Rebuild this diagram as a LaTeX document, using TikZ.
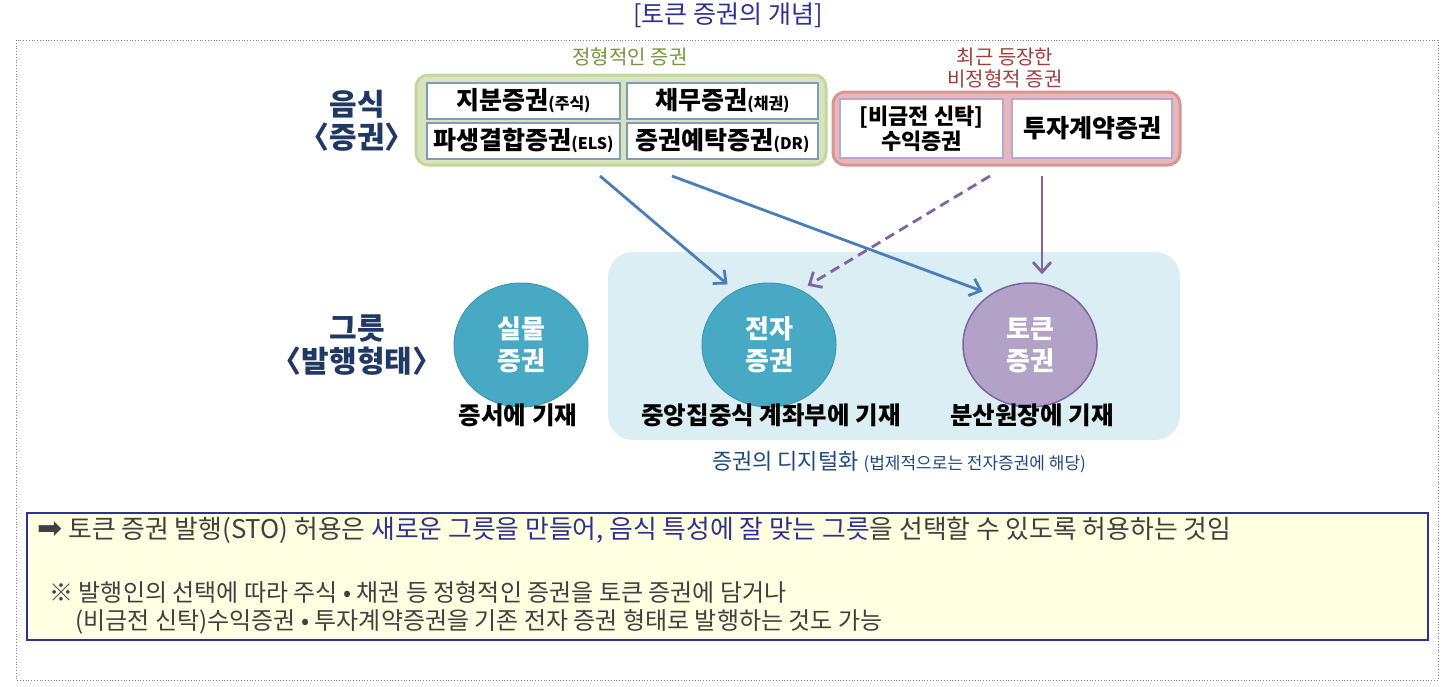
\documentclass[tikz,border=0pt]{standalone}
\usepackage{fontspec}
\setmainfont{Noto Sans CJK KR}
\newfontfamily\symfont{DejaVu Sans}
\usepackage{tikz}
\usetikzlibrary{shapes.geometric, arrows.meta, positioning, backgrounds}

\definecolor{navy}{HTML}{1F3864}
\definecolor{titleblue}{HTML}{2E3192}
\definecolor{grpgreen}{HTML}{D7E4BD}
\definecolor{grpgreenb}{HTML}{C3D69B}
\definecolor{olive}{HTML}{77933C}
\definecolor{grppink}{HTML}{E6B9B8}
\definecolor{grppinkb}{HTML}{D99694}
\definecolor{darkred}{HTML}{A23C3A}
\definecolor{boxblue}{HTML}{7F9BBD}
\definecolor{boxlilac}{HTML}{B4A7D6}
\definecolor{digibg}{HTML}{DAEEF3}
\definecolor{teal}{HTML}{48A9C4}
\definecolor{tealb}{HTML}{3E97B0}
\definecolor{lilac}{HTML}{B3A2C7}
\definecolor{lilacb}{HTML}{8064A2}
\definecolor{arrblue}{HTML}{4A7EBB}
\definecolor{noteyel}{HTML}{FFFFE1}
\definecolor{notegray}{HTML}{404040}
\definecolor{capblue}{HTML}{1F497D}

\newcommand{\fsz}[2]{\fontsize{#1}{#2}\selectfont}
\newcommand{\subtxt}[1]{{\fsz{16}{16}#1}}

\begin{document}
\begin{tikzpicture}[
    x=1pt, y=-1pt,
    grp/.style={rectangle, rounded corners=12pt, line width=3pt},
    secbox/.style={rectangle, draw=boxblue, line width=1.8pt, fill=white, inner sep=0pt, font=\fsz{25}{27}\bfseries, align=center},
    sidelbl/.style={align=center, text=navy, font=\fsz{30}{33}\bfseries},
    form/.style={ellipse, minimum width=134pt, minimum height=124pt, inner sep=0pt, text=white, align=center, font=\fsz{26}{32}\bfseries},
    under/.style={font=\fsz{24.5}{26}\bfseries},
    barr/.style={-{Straight Barb[length=10pt, width=18pt]}, line width=2.8pt, arrblue},
    parr/.style={-{Straight Barb[length=10pt, width=18pt]}, line width=2.8pt, lilacb},
    note/.style={anchor=west, text=notegray, font=\fsz{24}{26}}
]
\useasboundingbox (0,0) rectangle (1446,686);

%% -- title and frame --
\node[text=titleblue, font=\fsz{25}{27}] (title) at (728,15) {[토큰 증권의 개념]};
\draw[gray, dotted, line width=0.8pt] (16,40) rectangle (1438,680);

%% -- securities (top row) --
\node[sidelbl] (food) at (357,121) {음식\\〈증권〉};

\node[grp, fill=grpgreen, draw=grpgreenb, minimum width=410pt, minimum height=90pt] (typed) at (621,120) {};
\node[text=olive, font=\fsz{20}{22}] (typedlbl) at (630,57) {정형적인 증권};
\node[secbox, minimum width=193pt, minimum height=36pt] (equity) at (523.5,101) {지분증권\subtxt{(주식)}};
\node[secbox, minimum width=191pt, minimum height=36pt] (debt)   at (722.5,101) {채무증권\subtxt{(채권)}};
\node[secbox, minimum width=193pt, minimum height=36pt] (deriv)  at (523.5,141) {파생결합증권\subtxt{(ELS)}};
\node[secbox, minimum width=191pt, minimum height=36pt] (depo)   at (722.5,141) {증권예탁증권\subtxt{(DR)}};

\node[grp, fill=grppink, draw=grppinkb, minimum width=347pt, minimum height=73pt] (atyp) at (1006.5,128.5) {};
\node[text=darkred, font=\fsz{20}{22}, align=center] (atyplbl) at (1005,68) {최근 등장한\\비정형적 증권};
\node[secbox, draw=boxlilac, minimum width=163pt, minimum height=59pt, font=\fsz{22}{25}\bfseries] (trust)  at (921.5,128.5) {[비금전 신탁]\\수익증권};
\node[secbox, draw=boxlilac, minimum width=160pt, minimum height=59pt] (invest) at (1092,128.5) {투자계약증권};

%% -- issuance forms (middle row) --
\node[sidelbl] (vessel) at (357,345) {그릇\\〈발행형태〉};

\node[rectangle, rounded corners=25pt, fill=digibg, minimum width=572pt, minimum height=188pt] (digi) at (894,346) {};

\node[form, fill=teal, draw=tealb, line width=1pt]  (paper)  at (521,345) {실물\\증권};
\node[form, fill=teal, draw=tealb, line width=1pt]  (ejeon)  at (769,345) {전자\\증권};
\node[form, fill=lilac, draw=lilacb, line width=1.5pt] (token) at (1030,345) {토큰\\증권};

\node[under] (paperlbl) at (518,415) {증서에 기재};
\node[under] (ejeonlbl) at (771,415) {중앙집중식 계좌부에 기재};
\node[under] (tokenlbl) at (1032,415) {분산원장에 기재};

\node[text=capblue, font=\fsz{22}{24}] (digilbl) at (899,462) {증권의 디지털화 {\fsz{17}{17}(법제적으로는 전자증권에 해당)}};

%% -- arrows --
\coordinate (sA) at (600,176);
\coordinate (sB) at (672,176);
\coordinate (sC) at (990,176);
\coordinate (sD) at (1042,176);
\draw[barr] (sA) -- (ejeon.122) [shorten >=10pt];
\draw[barr] (sB) -- (token.128) [shorten >=8pt];
\draw[parr, dashed, dash pattern=on 10pt off 6pt] (sC) -- (ejeon.60) [shorten >=8pt];
\draw[parr] (sD) -- (sD |- token.north) [shorten >=8pt];

%% -- note box --
\node[rectangle, draw=titleblue, line width=1.5pt, fill=noteyel, minimum width=1401pt, minimum height=127pt] (notebox) at (727.5,576.5) {};
\node[note, font=\fsz{25.8}{27}] (note1) at (34,530) {{\symfont\fsz{30}{30}➡} 토큰 증권 발행(STO) 허용은 \textcolor{titleblue}{새로운 그릇을 만들어, 음식 특성에 잘 맞는 그릇}을 선택할 수 있도록 허용하는 것임};
\node[note] (note2) at (46,592) {※ 발행인의 선택에 따라 주식 • 채권 등 정형적인 증권을 토큰 증권에 담거나};
\node[note] (note3) at (72,622) {(비금전 신탁)수익증권 • 투자계약증권을 기존 전자 증권 형태로 발행하는 것도 가능};

\end{tikzpicture}
\end{document}
